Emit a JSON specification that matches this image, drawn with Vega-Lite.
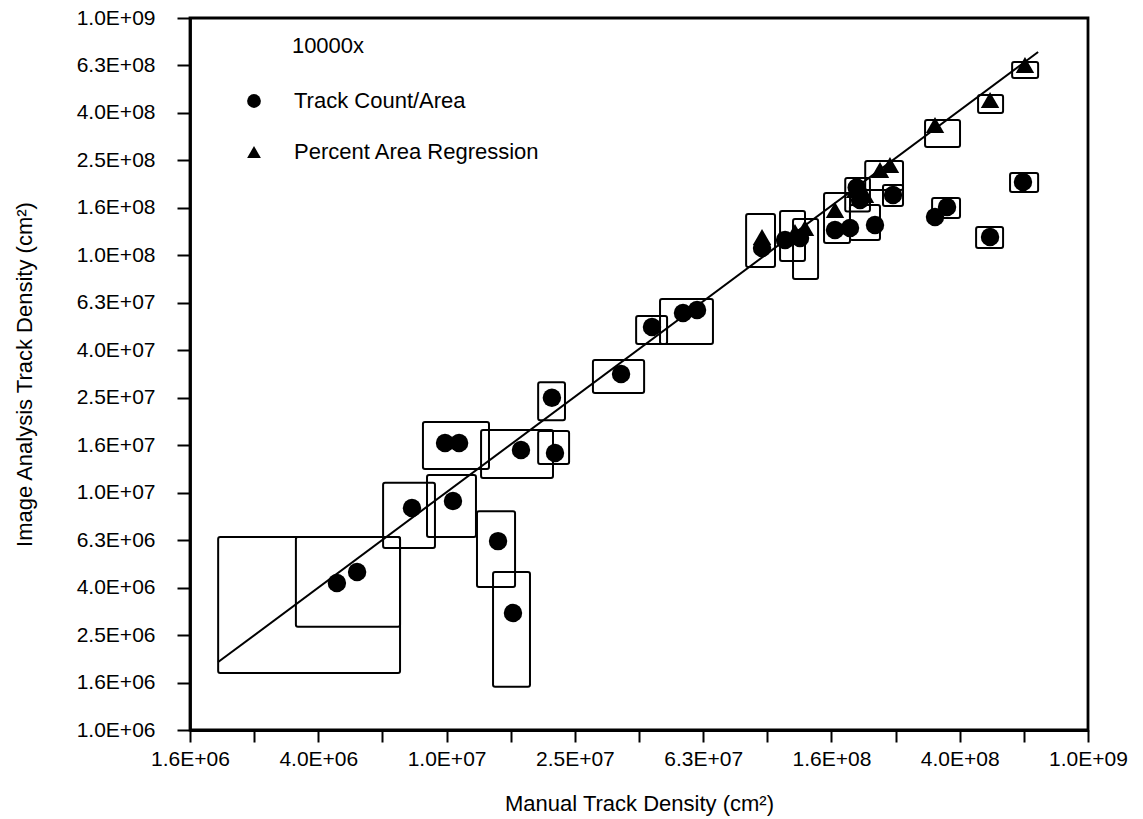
{
  "$schema": "https://vega.github.io/schema/vega-lite/v6.json",
  "width": 898,
  "height": 712,
  "autosize": {"type": "none"},
  "padding": {"left": 190, "top": 18, "right": 55, "bottom": 89},
  "background": "white",
  "config": {
    "view": {"stroke": "black", "strokeWidth": 2.8},
    "font": "Liberation Sans",
    "axis": {
      "domainColor": "black", "domainWidth": 2.8,
      "tickColor": "black", "tickWidth": 2,
      "labelColor": "black", "labelFont": "Liberation Sans", "labelFontSize": 21,
      "titleColor": "black", "titleFont": "Liberation Sans", "titleFontSize": 22, "titleFontWeight": "normal",
      "grid": false, "labelFlush": false, "labelOverlap": false
    },
    "legend": {
      "labelFont": "Liberation Sans", "labelFontSize": 22, "labelColor": "black",
      "titleFont": "Liberation Sans", "titleFontSize": 22, "titleFontWeight": "normal", "titleColor": "black"
    }
  },
  "datasets": {
    "boxes": [
      {"x": 1940000, "x2": 7160000, "y": 1740000, "y2": 6500000},
      {"x": 3390000, "x2": 7160000, "y": 2720000, "y2": 6500000},
      {"x": 6340000, "x2": 9200000, "y": 5850000, "y2": 11000000},
      {"x": 8690000, "x2": 12350000, "y": 6500000, "y2": 11860000},
      {"x": 12440000, "x2": 16350000, "y": 4000000, "y2": 8360000},
      {"x": 13960000, "x2": 18200000, "y": 1520000, "y2": 4630000},
      {"x": 8440000, "x2": 13560000, "y": 12580000, "y2": 19840000},
      {"x": 12810000, "x2": 21470000, "y": 11520000, "y2": 18360000},
      {"x": 19300000, "x2": 24100000, "y": 13200000, "y2": 18180000},
      {"x": 19300000, "x2": 23400000, "y": 20200000, "y2": 29200000},
      {"x": 28600000, "x2": 41300000, "y": 26300000, "y2": 36200000},
      {"x": 39000000, "x2": 48700000, "y": 42300000, "y2": 55500000},
      {"x": 46300000, "x2": 67700000, "y": 42300000, "y2": 65400000},
      {"x": 85900000, "x2": 105700000, "y": 89300000, "y2": 149300000},
      {"x": 109600000, "x2": 131100000, "y": 94600000, "y2": 153700000},
      {"x": 120300000, "x2": 144000000, "y": 79400000, "y2": 142200000},
      {"x": 150300000, "x2": 181100000, "y": 112700000, "y2": 183000000},
      {"x": 202000000, "x2": 265000000, "y": 188500000, "y2": 249700000},
      {"x": 229500000, "x2": 265000000, "y": 161400000, "y2": 197900000},
      {"x": 175000000, "x2": 209000000, "y": 153000000, "y2": 212000000},
      {"x": 181000000, "x2": 224600000, "y": 116000000, "y2": 162900000},
      {"x": 310400000, "x2": 399000000, "y": 286100000, "y2": 371700000},
      {"x": 454200000, "x2": 543500000, "y": 397800000, "y2": 474000000},
      {"x": 580000000, "x2": 699000000, "y": 558700000, "y2": 652500000},
      {"x": 571400000, "x2": 699000000, "y": 184800000, "y2": 222300000},
      {"x": 447800000, "x2": 543500000, "y": 107400000, "y2": 131600000},
      {"x": 326500000, "x2": 399000000, "y": 143600000, "y2": 174400000}
    ],
    "points": [
      {"series": "Track Count/Area", "x": 4550000, "y": 4160000},
      {"series": "Track Count/Area", "x": 5260000, "y": 4630000},
      {"series": "Track Count/Area", "x": 7800000, "y": 8610000},
      {"series": "Track Count/Area", "x": 10470000, "y": 9230000},
      {"series": "Track Count/Area", "x": 14470000, "y": 6250000},
      {"series": "Track Count/Area", "x": 16110000, "y": 3110000},
      {"series": "Track Count/Area", "x": 9890000, "y": 16180000},
      {"series": "Track Count/Area", "x": 10940000, "y": 16180000},
      {"series": "Track Count/Area", "x": 17060000, "y": 15120000},
      {"series": "Track Count/Area", "x": 21780000, "y": 14690000},
      {"series": "Track Count/Area", "x": 21300000, "y": 25100000},
      {"series": "Track Count/Area", "x": 35000000, "y": 31600000},
      {"series": "Track Count/Area", "x": 43700000, "y": 49900000},
      {"series": "Track Count/Area", "x": 54600000, "y": 57100000},
      {"series": "Track Count/Area", "x": 60400000, "y": 58800000},
      {"series": "Track Count/Area", "x": 96300000, "y": 107400000},
      {"series": "Track Count/Area", "x": 113600000, "y": 116000000},
      {"series": "Track Count/Area", "x": 126500000, "y": 118300000},
      {"series": "Track Count/Area", "x": 162600000, "y": 127800000},
      {"series": "Track Count/Area", "x": 181100000, "y": 130300000},
      {"series": "Track Count/Area", "x": 194600000, "y": 171000000},
      {"series": "Track Count/Area", "x": 190000000, "y": 193000000},
      {"series": "Track Count/Area", "x": 216700000, "y": 134200000},
      {"series": "Track Count/Area", "x": 246600000, "y": 179500000},
      {"series": "Track Count/Area", "x": 333400000, "y": 145000000},
      {"series": "Track Count/Area", "x": 363500000, "y": 159800000},
      {"series": "Track Count/Area", "x": 495000000, "y": 119400000},
      {"series": "Track Count/Area", "x": 627000000, "y": 203700000},
      {"series": "Percent Area Regression", "x": 96300000, "y": 119400000},
      {"series": "Percent Area Regression", "x": 122000000, "y": 125400000},
      {"series": "Percent Area Regression", "x": 131100000, "y": 130300000},
      {"series": "Percent Area Regression", "x": 162600000, "y": 155200000},
      {"series": "Percent Area Regression", "x": 187800000, "y": 188500000},
      {"series": "Percent Area Regression", "x": 201700000, "y": 179500000},
      {"series": "Percent Area Regression", "x": 224600000, "y": 228800000},
      {"series": "Percent Area Regression", "x": 241300000, "y": 240200000},
      {"series": "Percent Area Regression", "x": 333400000, "y": 354100000},
      {"series": "Percent Area Regression", "x": 495000000, "y": 451200000},
      {"series": "Percent Area Regression", "x": 636000000, "y": 634000000}
    ],
    "fit": [
      {"x": 1940000, "y": 1933000},
      {"x": 699000000, "y": 719000000}
    ]
  },
  "encoding": {
    "x": {
      "field": "x", "type": "quantitative",
      "scale": {"type": "log", "domain": [1584893, 1000000000], "nice": false, "zero": false},
      "axis": {
        "values": [1584893, 2511886, 3981072, 6309573, 10000000, 15848932, 25118864, 39810717, 63095734, 100000000, 158489319, 251188643, 398107171, 630957344, 1000000000],
        "labelExpr": "round(log(datum.value)/LN10*5) % 2 == 1 ? replace(format(datum.value, '.1e'), 'e+', 'E+0') : ''",
        "tickSize": 12, "labelPadding": 6,
        "title": "Manual Track Density (cm²)",
        "titleX": 449, "titleY": 80, "titleBaseline": "alphabetic", "titleAlign": "center"
      }
    },
    "y": {
      "field": "y", "type": "quantitative",
      "scale": {"type": "log", "domain": [1000000, 1000000000], "nice": false, "zero": false},
      "axis": {
        "values": [1000000, 1584893, 2511886, 3981072, 6309573, 10000000, 15848932, 25118864, 39810717, 63095734, 100000000, 158489319, 251188643, 398107171, 630957344, 1000000000],
        "labelExpr": "replace(format(datum.value, '.1e'), 'e+', 'E+0')",
        "tickSize": 13, "labelPadding": 22,
        "title": "Image Analysis Track Density (cm²)",
        "titleX": -159, "titleY": 356, "titleBaseline": "alphabetic", "titleAlign": "center", "titleAngle": 270
      }
    }
  },
  "layer": [
    {
      "data": {"name": "boxes"},
      "mark": {"type": "rect", "filled": false, "stroke": "black", "strokeWidth": 2, "cornerRadius": 2},
      "encoding": {
        "x2": {"field": "x2"},
        "y2": {"field": "y2"}
      }
    },
    {
      "data": {"name": "fit"},
      "mark": {"type": "line", "color": "black", "strokeWidth": 2},
      "encoding": {}
    },
    {
      "data": {"name": "points"},
      "mark": {"type": "point", "filled": true, "color": "black", "size": 340, "opacity": 1},
      "encoding": {
        "shape": {
          "field": "series", "type": "nominal",
          "scale": {"domain": ["Track Count/Area", "Percent Area Regression"], "range": ["circle", "triangle-up"]},
          "legend": {
            "title": "\u200c\u00a0\u00a0\u00a0\u00a0\u00a0\u00a0\u00a0\u00a010000x",
            "orient": "none", "legendX": 53, "legendY": 18,
            "padding": 0, "titlePadding": 32, "rowPadding": 29,
            "labelOffset": 29, "labelLimit": 500, "symbolSize": 190,
            "symbolFillColor": "black", "symbolStrokeWidth": 0
          }
        }
      }
    }
  ]
}
